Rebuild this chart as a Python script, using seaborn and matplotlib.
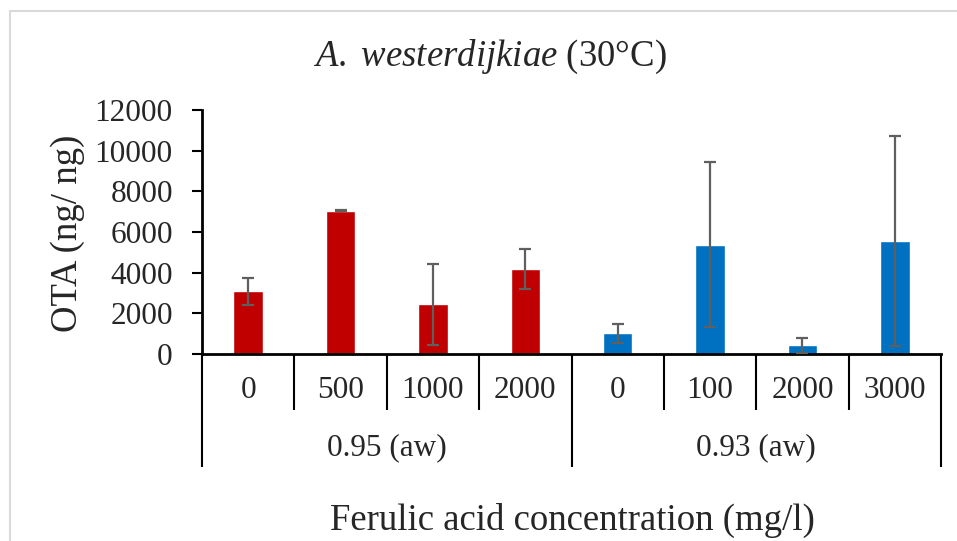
import matplotlib
matplotlib.use("Agg")
import matplotlib.pyplot as plt
import matplotlib.transforms as mtransforms
from matplotlib.patches import Rectangle
import numpy as np
import pandas as pd
import seaborn as sns

# OTA production per treatment (mean and error)
water_activity = ["0.95 (aw)", "0.95 (aw)", "0.95 (aw)", "0.95 (aw)",
                  "0.93 (aw)", "0.93 (aw)", "0.93 (aw)", "0.93 (aw)"]
concentration = ["0", "500", "1000", "2000", "0", "100", "2000", "3000"]
ota_mean = [3080, 7050, 2450, 4200, 1010, 5380, 430, 5550]
ota_err = [650, 30, 2000, 980, 470, 4070, 370, 5150]
group_labels = ["0.95 (aw)", "0.93 (aw)"]
group_colors = ["#C00000", "#0070C0"]
y_ticks = [0, 2000, 4000, 6000, 8000, 10000, 12000]

sns.set_style("white")
plt.rcParams["font.family"] = ["Liberation Serif", "DejaVu Serif"]
plt.rcParams["mathtext.fontset"] = "custom"
plt.rcParams["mathtext.rm"] = "Liberation Serif"
plt.rcParams["mathtext.it"] = "Liberation Serif:italic"

df = pd.DataFrame({
    "key": [f"{g}|{c}" for g, c in zip(water_activity, concentration)],
    "group": water_activity,
    "conc": concentration,
    "ota": ota_mean,
})

W, H = 957, 541
fig = plt.figure(figsize=(W / 100, H / 100), dpi=100)
ax = fig.add_axes([202 / W, 1 - 354 / H, (941 - 202) / W, (354 - 110) / H])

sns.barplot(data=df, x="key", y="ota", hue="group", hue_order=group_labels,
            palette=group_colors, dodge=False, width=0.32, saturation=1,
            errorbar=None, legend=False, ax=ax)

xpos = np.arange(len(df))
ax.errorbar(xpos, ota_mean, yerr=ota_err, fmt="none", ecolor="#5f5f5f",
            elinewidth=1.6, capsize=4, capthick=1.6, zorder=3)

ax.set_xlim(-0.5, len(df) - 0.5)
ax.set_ylim(0, 12000)
ax.set_yticks(y_ticks)
ax.set_yticklabels([str(v) for v in y_ticks], fontsize=22.5)
ax.tick_params(axis="y", direction="out", length=7, width=1.5, pad=14,
               left=True, color="black")
ax.set_xticks([])
ax.set_xlabel("")
ax.set_ylabel("")

for side in ["top", "right"]:
    ax.spines[side].set_visible(False)
for side in ["left", "bottom"]:
    ax.spines[side].set_color("black")
    ax.spines[side].set_linewidth(2)

# Two-level category axis below the bars
trans = mtransforms.blended_transform_factory(ax.transData, ax.transAxes)
inner_bottom = (354 - 410) / 244
outer_bottom = (354 - 467) / 244
for i in range(len(df) + 1):
    edge = i - 0.5
    boundary = i == 0 or i == len(df) or water_activity[i - 1] != water_activity[min(i, len(df) - 1)]
    ax.plot([edge, edge], [0, outer_bottom if boundary else inner_bottom],
            transform=trans, color="black", lw=1.5, clip_on=False,
            solid_capstyle="butt")

for i, c in enumerate(concentration):
    ax.text(i, (354 - 391) / 244, c, transform=trans, ha="center",
            va="center", fontsize=22.5)

for g in group_labels:
    idx = [i for i, w in enumerate(water_activity) if w == g]
    ax.text(np.mean(idx), (354 - 448) / 244, g, transform=trans,
            ha="center", va="center", fontsize=22.5)

fig.text(490 / W, 1 - 57 / H, r"$A.\ westerdijkiae$ (30°C)",
         ha="center", va="center", fontsize=26.5)
fig.text(68 / W, 1 - 233 / H, "OTA (ng/ ng)", rotation=90,
         ha="center", va="center", fontsize=26.5)
fig.text(572 / W, 1 - 520 / H, "Ferulic acid concentration (mg/l)",
         ha="center", va="center", fontsize=26.5)

# Light chart-area border
fig.add_artist(Rectangle((10 / W, -0.1), 1.2, 1.1 - 11 / H,
                         transform=fig.transFigure, fill=False,
                         ec="#d9d9d9", lw=1.5))

fig.savefig("out.png", dpi=100, facecolor="white")
